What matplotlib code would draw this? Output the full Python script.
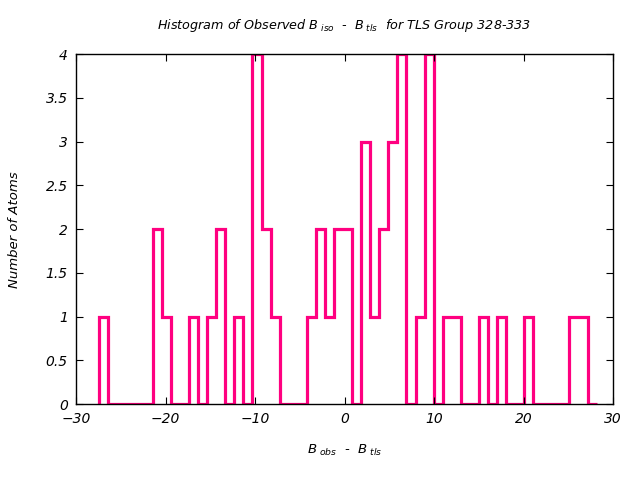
import numpy as np
import matplotlib
matplotlib.use("Agg")
import matplotlib.pyplot as plt

# histogram data
bin_start = -27.5
bin_width = 1.012
counts = [1, 0, 0, 0, 0, 0, 2, 1, 0, 0,
          1, 0, 1, 2, 0, 1, 0, 4, 2, 1,
          0, 0, 0, 1, 2, 1, 2, 2, 0, 3,
          1, 2, 3, 4, 0, 1, 4, 0, 1, 1,
          0, 0, 1, 0, 1, 0, 0, 1, 0, 0,
          0, 0, 1, 1, 0]
x_ticks = [-30, -20, -10, 0, 10, 20, 30]
y_ticks = [0, 0.5, 1, 1.5, 2, 2.5, 3, 3.5, 4]

plt.rcParams["mathtext.fontset"] = "dejavusans"
plt.rcParams["mathtext.default"] = "it"
plt.rcParams["font.style"] = "italic"
plt.rcParams["font.size"] = 10

edges = bin_start + bin_width * np.arange(len(counts) + 1)

fig = plt.figure(figsize=(6.4, 4.8), dpi=100)
ax = fig.add_axes([0.119, 0.158, 0.839, 0.729])

ax.stairs(counts, edges, color="#ff0080", linewidth=2.3, baseline=0)

ax.set_xlim(-30, 30)
ax.set_ylim(0, 4)
ax.set_xticks(x_ticks)
ax.set_yticks(y_ticks)
ax.set_yticklabels([f"{v:g}" for v in y_ticks])
ax.tick_params(direction="in", top=True, right=True, length=5, pad=6)
for s in ax.spines.values():
    s.set_linewidth(1)

ax.set_title(r"Histogram of Observed $B_{\ iso}$  -  $B_{\ tls}$  for TLS Group 328-333",
             fontsize=9.2, pad=18)
ax.set_xlabel(r"$B_{\ obs}$  -  $B_{\ tls}$", fontsize=9.5, labelpad=12)
ax.set_ylabel("Number of Atoms", fontsize=9.5, labelpad=18)

fig.savefig("out.png", dpi=100)
